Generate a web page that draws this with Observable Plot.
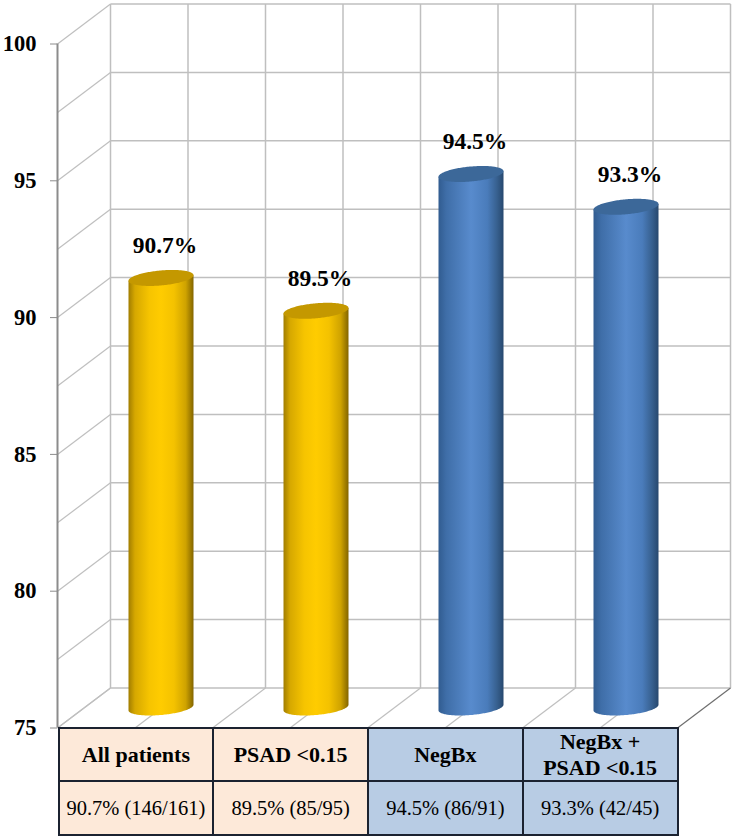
<!DOCTYPE html>
<html><head><meta charset="utf-8">
<script src="https://cdn.jsdelivr.net/npm/d3@7"></script>
<script src="https://cdn.jsdelivr.net/npm/@observablehq/plot@0.6"></script>
<style>
html,body{margin:0;padding:0;background:#fff}
#chart svg{display:block}
table{border-collapse:collapse;table-layout:fixed;width:621px;margin:-20px 0 0 57.5px;position:relative;
 font-family:"Liberation Serif",serif;color:#000}
td{border:2px solid #1b2230;text-align:center;padding:0;overflow:hidden;white-space:pre-line}
tr.h td{height:51px;font-weight:bold;font-size:22px;line-height:25.5px}
tr.v td{height:52px;font-size:20.5px}
</style></head><body>
<div id="chart"></div>
<script>
const categories=["All patients","PSAD <0.15","NegBx","NegBx +\nPSAD <0.15"];
const values=[90.7,89.5,94.5,93.3];
const tableValues=["90.7% (146/161)","89.5% (85/95)","94.5% (86/91)","93.3% (42/45)"];
const barGroups=["gold","gold","blue","blue"];
const yTicks=[75,80,85,90,95,100];
const gridValues=[75,77.5,80,82.5,85,87.5,90,92.5,95,97.5,100];
const gridCats=[0,.5,1,1.5,2,2.5,3,3.5,4];

const capColor={gold:"#c49800",blue:"#3c6899"};
const stops={
 gold:[[0,"#a17d00"],[.1,"#d6a800"],[.32,"#f6c400"],[.5,"#ffcc00"],[.7,"#f4c200"],[.88,"#cfa300"],[1,"#836500"]],
 blue:[[0,"#315c90"],[.12,"#3f6ea8"],[.5,"#588bcd"],[.75,"#4a7cbb"],[.9,"#37608f"],[1,"#27486e"]]
};
// depth of the 3D box and cylinder proportions, in data units
const pxPerUnitX=155,pxPerUnitY=27.36;
const depthX=53/pxPerUnitX,depthY=40/pxPerUnitY;
const halfW=32.5/pxPerUnitX,tilt=2.8/pxPerUnitY,capR=7.5/pxPerUnitY;

const us=d3.range(0,81).map(i=>-Math.cos(i/80*Math.PI));
const bars=values.map((v,i)=>({i,v,cx:i+.5+depthX/2,g:barGroups[i]}));
const contour=(b,base,s)=>base+tilt*b+s*capR*Math.sqrt(Math.max(0,1-b*b));
const body=bars.flatMap(b=>us.map(u=>({i:b.i,g:b.g,x:b.cx+u*halfW,
  lo:contour(u,75+depthY/2,-1),hi:contour(u,b.v+depthY/2,0)})));
const cap=bars.flatMap(b=>us.map(u=>({i:b.i,g:b.g,x:b.cx+u*halfW,
  lo:contour(u,b.v+depthY/2,-1),hi:contour(u,b.v+depthY/2,1)})));

const defs=()=>{
  const d=d3.create("svg:defs");
  for(const k in stops){
    const g=d.append("linearGradient").attr("id","grad-"+k).attr("x1",0).attr("x2",1).attr("y1",0).attr("y2",0);
    stops[k].forEach(([o,c])=>g.append("stop").attr("offset",o).attr("stop-color",c));
  }
  return d.node();
};
const grid="#bfbfbf";
const font='"Liberation Serif",serif';
const plot=Plot.plot({
  width:735,height:747,marginLeft:57,marginRight:4,marginTop:4,marginBottom:19,
  style:{fontFamily:font,background:"transparent",color:"#000"},
  x:{domain:[0,4+depthX],range:[57,57+155*4+53],axis:null},
  y:{domain:[75,100+depthY],range:[727.5,3.5]},
  marks:[
    defs,
    Plot.link(gridValues,{x1:depthX,x2:4+depthX,y1:v=>v+depthY,y2:v=>v+depthY,stroke:grid,strokeWidth:1.5}),
    Plot.link(gridCats,{x1:c=>c+depthX,x2:c=>c+depthX,y1:75+depthY,y2:100+depthY,stroke:grid,strokeWidth:1.5}),
    Plot.link(gridValues,{x1:0,x2:depthX,y1:v=>v,y2:v=>v+depthY,stroke:grid,strokeWidth:1.2}),
    Plot.link(gridCats,{x1:c=>c,x2:c=>c+depthX,y1:75,y2:75+depthY,stroke:c=>c===4?"#6e6e6e":grid,strokeWidth:1.2}),
    Plot.ruleX([0],{y1:75,y2:100,stroke:"#8c8c8c",strokeWidth:2}),
    Plot.axisY({ticks:yTicks,tickSize:7,tickPadding:14,stroke:"#8c8c8c",fill:"#000",fontSize:22.5,fontWeight:"bold",label:null,tickFormat:d=>d}),
    Plot.area(body,{x1:"x",y1:"lo",y2:"hi",z:"i",fill:{value:d=>`url(#grad-${d.g})`,scale:null}}),
    Plot.area(cap,{x1:"x",y1:"lo",y2:"hi",z:"i",fill:{value:d=>capColor[d.g],scale:null}}),
    Plot.text(bars,{x:"cx",y:d=>d.v+depthY/2,text:d=>d.v.toFixed(1)+"%",dx:3.5,dy:-33,fontSize:23.5,fontWeight:"bold",fill:"#000"})
  ]
});
document.getElementById("chart").append(plot);
const t=d3.select("body").append("table");
const hr=t.append("tr").attr("class","h"), vr=t.append("tr").attr("class","v");
categories.forEach((c,i)=>{
  const bg=barGroups[i]==="gold"?"#fde9d9":"#b8cce4";
  hr.append("td").style("background",bg).text(c);
  vr.append("td").style("background",bg).text(tableValues[i]);
});
</script>
</body></html>
